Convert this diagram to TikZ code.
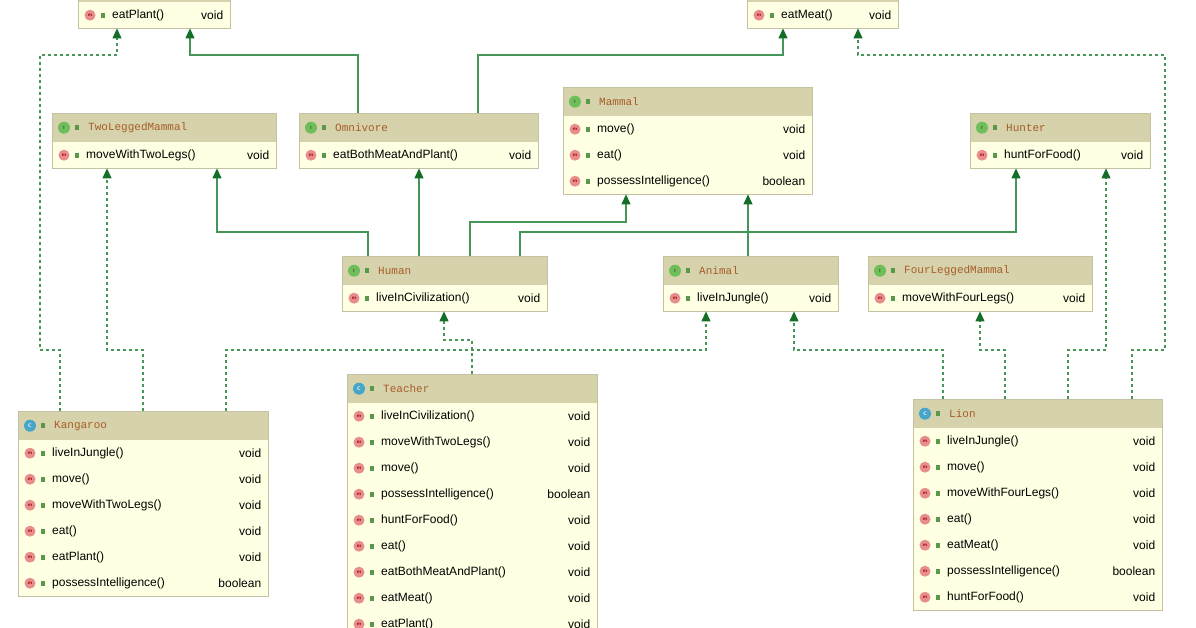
\documentclass[tikz,border=0pt]{standalone}
\usepackage{fontspec}
\setmainfont{Liberation Sans}
\setmonofont{Liberation Mono}
\usetikzlibrary{calc,arrows.meta}
\definecolor{hdrfill}{RGB}{214,211,172}
\definecolor{rowfill}{RGB}{255,255,228}
\definecolor{boxline}{RGB}{196,194,160}
\definecolor{titlecol}{RGB}{168,92,40}
\definecolor{edgecol}{RGB}{70,150,90}
\definecolor{tipcol}{RGB}{20,110,40}
\definecolor{icongreen}{RGB}{110,190,90}
\definecolor{iconteal}{RGB}{70,165,200}
\definecolor{iconpink}{RGB}{232,140,140}
\tikzset{
  hdr/.style={fill=hdrfill, draw=boxline, minimum height=29pt, inner sep=0pt},
  row/.style={fill=rowfill, minimum height=26pt, inner sep=0pt},
  border/.style={draw=boxline, line width=0.8pt},
  title/.style={font=\ttfamily\fontsize{11}{13}\selectfont, text=titlecol, inner sep=0pt},
  member/.style={font=\fontsize{12}{14}\selectfont, inner sep=0pt},
  kindI/.style={circle, fill=icongreen, minimum size=12pt, inner sep=0pt, font=\sffamily\bfseries\tiny, text=black!70},
  kindC/.style={circle, fill=iconteal, minimum size=12pt, inner sep=0pt, font=\sffamily\bfseries\tiny, text=white},
  meth/.style={circle, fill=iconpink, minimum size=11pt, inner sep=0pt, font=\sffamily\bfseries\tiny, text=red!60!black},
  vis/.style={fill=icongreen!80!black, minimum width=4pt, minimum height=5pt, inner sep=0pt},
  ext/.style={draw=edgecol, line width=1.1pt, -{Triangle[width=9pt,length=10pt,fill=tipcol,color=tipcol]}},
  impl/.style={ext, dash pattern=on 3pt off 3pt}
}
% #1 name, #2 left, #3 top, #4 width, #5 rows, #6 kind, #7 title, #8 members
\newcommand\umlbox[8]{%
  \node[hdr, minimum width=#4pt, anchor=north west] (#1) at (#2,#3) {};
  \node[kind#6] at ($(#1.west)+(12,0)$) {#6};
  \node[vis] at ($(#1.west)+(25,0)$) {};
  \node[title, anchor=west] at ($(#1.west)+(36,0)$) {#7};
  \foreach \m/\t [count=\i] in {#8} {
    \node[row, minimum width=#4pt, anchor=north west] (#1-\i) at (#2,{#3+29+(\i-1)*26}) {};
    \node[meth] at ($(#1-\i.west)+(12,0)$) {m};
    \node[vis] at ($(#1-\i.west)+(25,0)$) {};
    \node[member, anchor=west] at ($(#1-\i.west)+(34,0)$) {\m};
    \node[member, anchor=east] at ($(#1-\i.east)+(-7,0)$) {\t};
  }
  \draw[border] (#1.north west) rectangle (#1-#5.south east);
}
\begin{document}
\begin{tikzpicture}[x=1pt,y=-1pt]
  \useasboundingbox (0,0) rectangle (1196,628);
  \clip (0,0) rectangle (1196,628);
  \fill[white] (0,0) rectangle (1196,628);
  % interfaces
  \umlbox{herbivore}{78}{-27}{152}{1}{I}{}{eatPlant()/void}
  \umlbox{carnivore}{747}{-27}{151}{1}{I}{}{eatMeat()/void}
  \umlbox{twolegged}{52}{113}{224}{1}{I}{TwoLeggedMammal}{moveWithTwoLegs()/void}
  \umlbox{omnivore}{299}{113}{239}{1}{I}{Omnivore}{eatBothMeatAndPlant()/void}
  \umlbox{mammal}{563}{87}{249}{3}{I}{Mammal}{move()/void, eat()/void, possessIntelligence()/boolean}
  \umlbox{hunter}{970}{113}{180}{1}{I}{Hunter}{huntForFood()/void}
  \umlbox{human}{342}{256}{205}{1}{I}{Human}{liveInCivilization()/void}
  \umlbox{animal}{663}{256}{175}{1}{I}{Animal}{liveInJungle()/void}
  \umlbox{fourlegged}{868}{256}{224}{1}{I}{FourLeggedMammal}{moveWithFourLegs()/void}
  % classes
  \umlbox{kangaroo}{18}{411}{250}{6}{C}{Kangaroo}{liveInJungle()/void, move()/void, moveWithTwoLegs()/void, eat()/void, eatPlant()/void, possessIntelligence()/boolean}
  \umlbox{teacher}{347}{374}{250}{9}{C}{Teacher}{liveInCivilization()/void, moveWithTwoLegs()/void, move()/void, possessIntelligence()/boolean, huntForFood()/void, eat()/void, eatBothMeatAndPlant()/void, eatMeat()/void, eatPlant()/void}
  \umlbox{lion}{913}{399}{249}{7}{C}{Lion}{liveInJungle()/void, move()/void, moveWithFourLegs()/void, eat()/void, eatMeat()/void, possessIntelligence()/boolean, huntForFood()/void}
  % extends
  \draw[ext] (omnivore.north -| 358,0) -- (358,55) -| (herbivore-1.south -| 190,0);
  \draw[ext] (omnivore.north -| 478,0) -- (478,55) -| (carnivore-1.south -| 783,0);
  \draw[ext] (human.north -| 368,0) -- (368,232) -| (twolegged-1.south -| 217,0);
  \draw[ext] (human.north -| 419,0) -- (omnivore-1.south -| 419,0);
  \draw[ext] (human.north -| 470,0) -- (470,222) -| (mammal-3.south -| 626,0);
  \draw[ext] (animal.north -| 748,0) -- (mammal-3.south -| 748,0);
  \draw[ext] (human.north -| 520,0) -- (520,232) -| (hunter-1.south -| 1016,0);
  % implements
  \draw[impl] (kangaroo.north -| 60,0) -- (60,350) -| (40,55) -| (herbivore-1.south -| 117,0);
  \draw[impl] (kangaroo.north -| 143,0) -- (143,350) -| (twolegged-1.south -| 107,0);
  \draw[impl] (kangaroo.north -| 226,0) -- (226,350) -| (animal-1.south -| 706,0);
  \draw[impl] (teacher.north -| 472,0) -- (472,340) -| (human-1.south -| 444,0);
  \draw[impl] (lion.north -| 943,0) -- (943,350) -| (animal-1.south -| 794,0);
  \draw[impl] (lion.north -| 1005,0) -- (1005,350) -| (fourlegged-1.south -| 980,0);
  \draw[impl] (lion.north -| 1068,0) -- (1068,350) -| (hunter-1.south -| 1106,0);
  \draw[impl] (lion.north -| 1132,0) -- (1132,350) -| (1165,55) -| (carnivore-1.south -| 858,0);
\end{tikzpicture}
\end{document}
